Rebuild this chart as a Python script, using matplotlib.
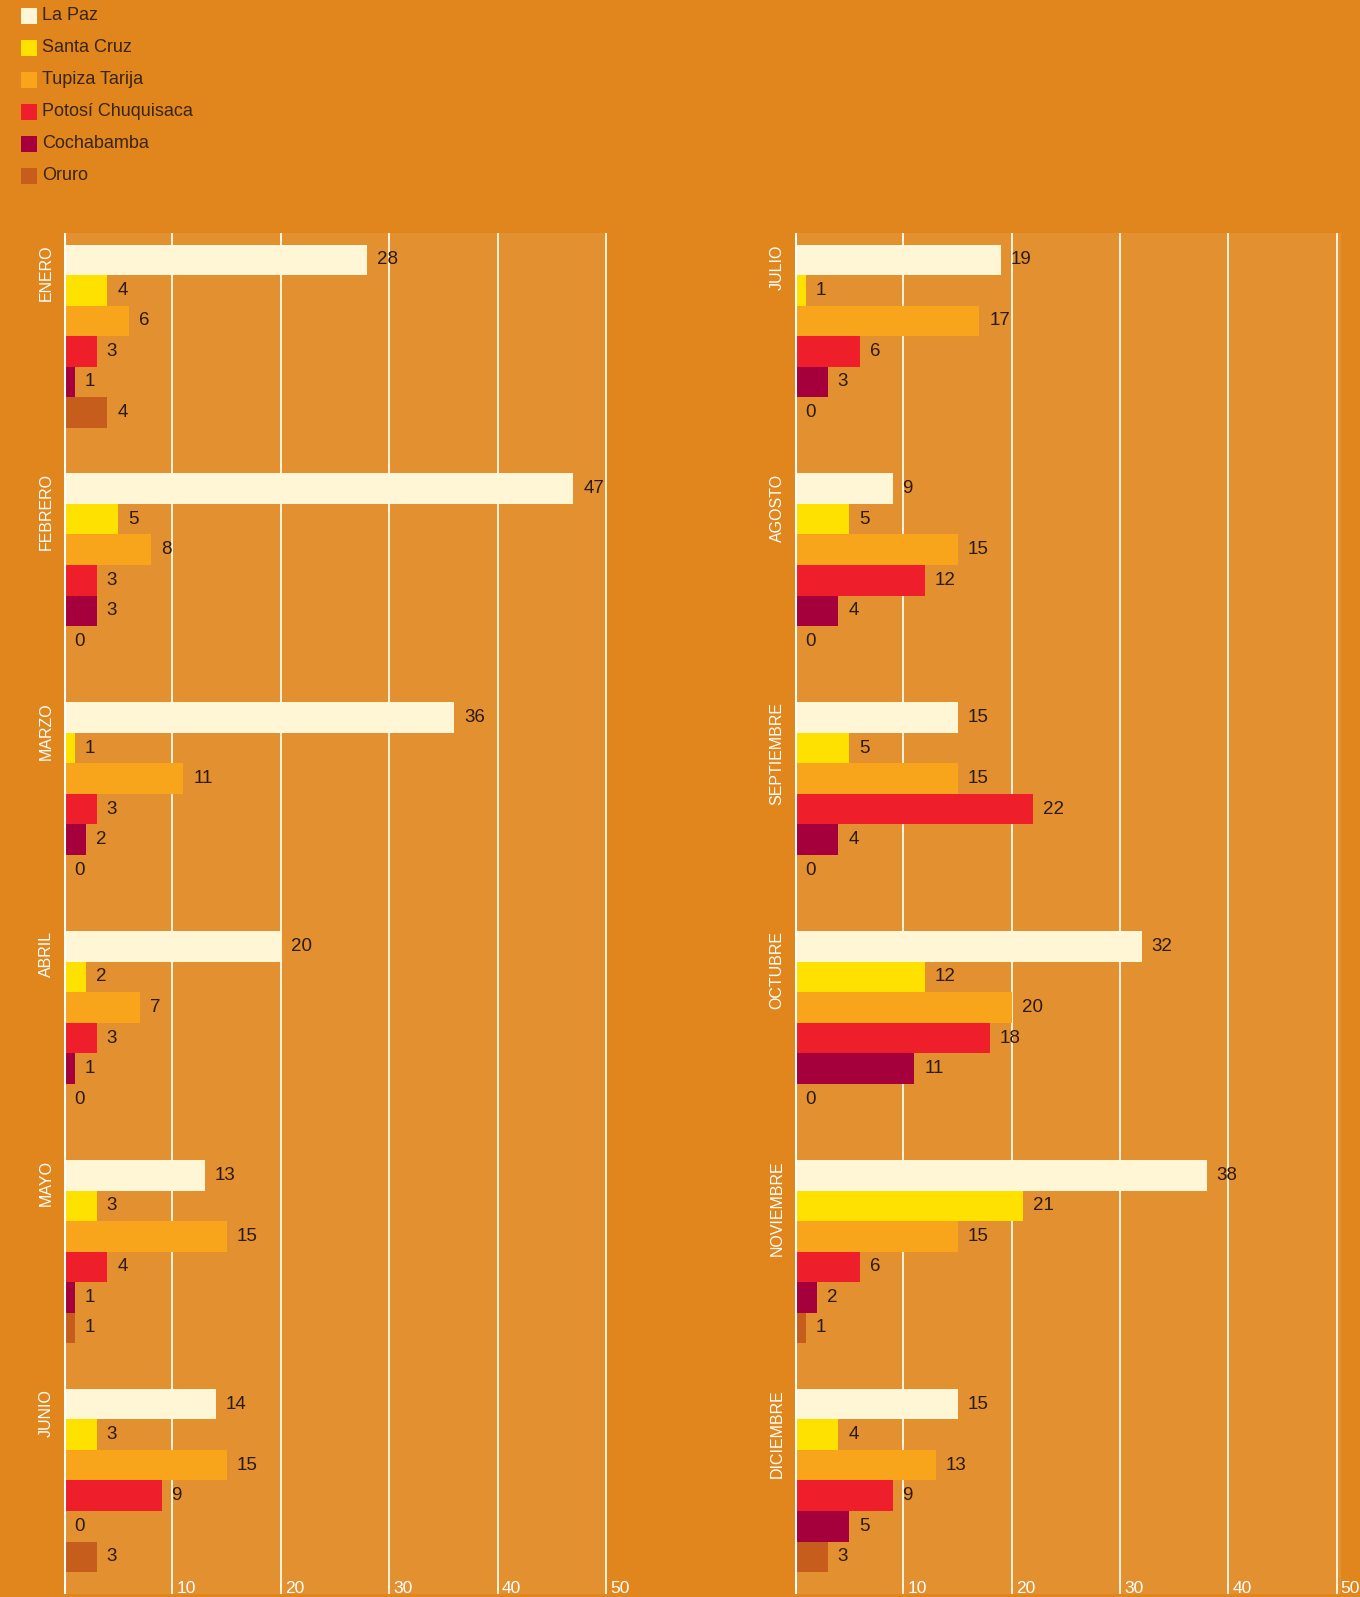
import matplotlib
matplotlib.use('Agg')
import matplotlib.pyplot as plt
from matplotlib.patches import Rectangle

plt.rcParams['font.family'] = ['Liberation Sans', 'DejaVu Sans']

# series (one bar per series inside every month)
series = ['La Paz', 'Santa Cruz', 'Tupiza Tarija', 'Potosí Chuquisaca', 'Cochabamba', 'Oruro']
colors = ['#FFF6D6', '#FFE100', '#F9A51B', '#EE1F2B', '#A5003C', '#C75D1D']

months_left = ['ENERO', 'FEBRERO', 'MARZO', 'ABRIL', 'MAYO', 'JUNIO']
months_right = ['JULIO', 'AGOSTO', 'SEPTIEMBRE', 'OCTUBRE', 'NOVIEMBRE', 'DICIEMBRE']

values_left = [
    [28, 4, 6, 3, 1, 4],
    [47, 5, 8, 3, 3, 0],
    [36, 1, 11, 3, 2, 0],
    [20, 2, 7, 3, 1, 0],
    [13, 3, 15, 4, 1, 1],
    [14, 3, 15, 9, 0, 3],
]
values_right = [
    [19, 1, 17, 6, 3, 0],
    [9, 5, 15, 12, 4, 0],
    [15, 5, 15, 22, 4, 0],
    [32, 12, 20, 18, 11, 0],
    [38, 21, 15, 6, 2, 1],
    [15, 4, 13, 9, 5, 3],
]
ticks = [10, 20, 30, 40, 50]

BG = '#E0861C'
PANEL = '#E39030'
TXT = '#2B1A0E'
W, H = 1360, 1597
pitch = 7.5  # rows per month group (6 bars + gap)

fig = plt.figure(figsize=(W / 100, H / 100), dpi=100, facecolor=BG)


def draw_panel(rect, months, values, xmax):
    ax = fig.add_axes(rect)
    ax.set_facecolor(PANEL)
    for g, (month, vals) in enumerate(zip(months, values)):
        top = g * pitch
        for r, (v, c) in enumerate(zip(vals, colors)):
            y = top + r + 0.5
            ax.barh(y, v, height=1.0, color=c, zorder=3)
            ax.annotate(str(v), xy=(v, y), xytext=(10, 0), textcoords='offset pixels',
                        va='center', ha='left', fontsize=13.5, color=TXT, zorder=4)
        ax.annotate(month, xy=(0, top), xycoords=('axes fraction', 'data'),
                    xytext=(-18, 0), textcoords='offset pixels', rotation=90,
                    ha='center', va='top', fontsize=11.5, color='white',
                    annotation_clip=False)
    for t in ticks:
        ax.axvline(t, color='#FFF3DC', lw=1.4, zorder=2)
        ax.annotate(str(t), xy=(t, 0), xycoords=ax.get_xaxis_transform(),
                    xytext=(4, -2), textcoords='offset pixels', ha='left', va='bottom',
                    fontsize=12.5, color='white', annotation_clip=False, zorder=5)
    ax.axvline(0, color='white', lw=2.2, zorder=5)
    ax.set_xlim(0, xmax)
    ax.set_ylim(5 * pitch + 6 + 0.72, -0.38)
    ax.set_xticks([])
    ax.set_yticks([])
    for s in ax.spines.values():
        s.set_visible(False)
    return ax


draw_panel([64 / W, 3 / H, 543 / W, 1361 / H], months_left, values_left, 50.1)
draw_panel([795 / W, 3 / H, 546 / W, 1361 / H], months_right, values_right, 50.4)

# legend, top left
for i, (name, c) in enumerate(zip(series, colors)):
    yc = 16 + 32 * i
    fig.add_artist(Rectangle((21 / W, 1 - (yc + 8) / H), 16 / W, 16 / H,
                             transform=fig.transFigure, facecolor=c, edgecolor='none'))
    fig.text(42 / W, 1 - yc / H, name, va='center', ha='left', fontsize=13, color='#3A2412')

fig.savefig('out.png', dpi=100, facecolor=BG)
